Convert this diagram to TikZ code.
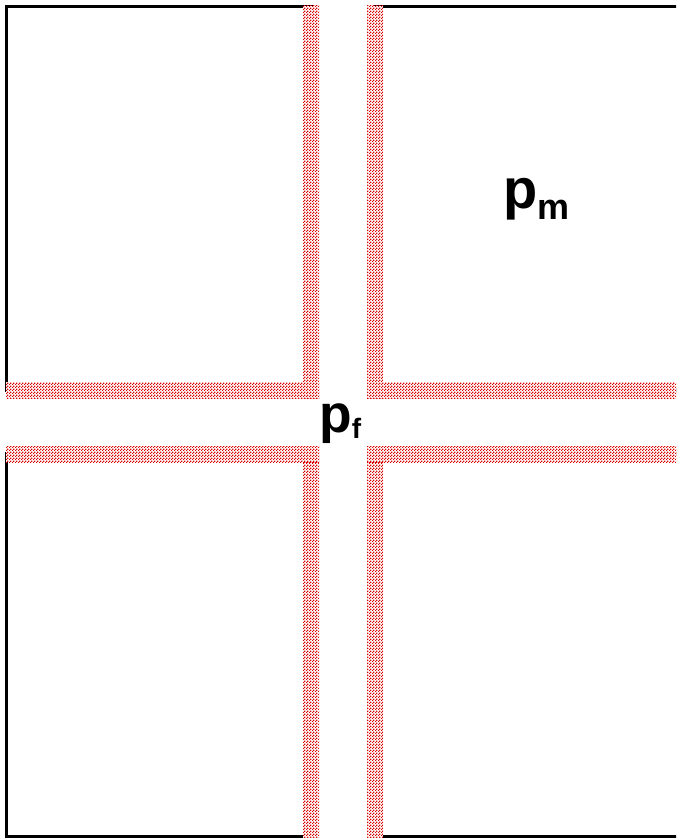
\documentclass[tikz,border=0pt]{standalone}
\usepackage{fontspec}
\setmainfont{Liberation Sans}
\usetikzlibrary{patterns.meta}

\tikzdeclarepattern{
  name=finechecker,
  type=uncolored,
  bounding box={(0pt,0pt) and (2.25pt,2.25pt)},
  tile size={(2.25pt,2.25pt)},
  code={
    \fill (0pt,0pt) rectangle (1.125pt,1.125pt);
    \fill (1.125pt,1.125pt) rectangle (2.25pt,2.25pt);
  }}

\begin{document}
\begin{tikzpicture}[x=0.75pt,y=-0.75pt,
  cell/.style={draw=black,line width=2.8pt},
  band/.style={fill=white,postaction={pattern=finechecker,pattern color=red!85!black}},
  label/.style={inner sep=0pt,anchor=base west,font=\bfseries}]
\useasboundingbox (0,0) rectangle (676,838);
\clip (0,0) rectangle (676,838);
% four blocks
\draw[cell] (6.5,6.5) rectangle (311,390);
\draw[cell] (375,6.5) rectangle (720,390);
\draw[cell] (6.5,454) rectangle (311,836.5);
\draw[cell] (375,454) rectangle (720,836.5);
% fracture bands
\fill[band] (303,6) rectangle (319,398);
\fill[band] (6,382) rectangle (319,398);
\fill[band] (367,6) rectangle (383,398);
\fill[band] (367,382) rectangle (676,398);
\fill[band] (303,446) rectangle (319,838);
\fill[band] (6,446) rectangle (319,462);
\fill[band] (367,446) rectangle (383,838);
\fill[band] (367,446) rectangle (676,462);
% pressures
\node[label] (pm) at (503,208) {\fontsize{42}{48}\selectfont p\raisebox{-9pt}{\fontsize{27}{30}\selectfont m}};
\node[label] (pf) at (319,432) {\fontsize{40}{48}\selectfont p\raisebox{-4.5pt}{\fontsize{21}{24}\selectfont f}};
\end{tikzpicture}
\end{document}
